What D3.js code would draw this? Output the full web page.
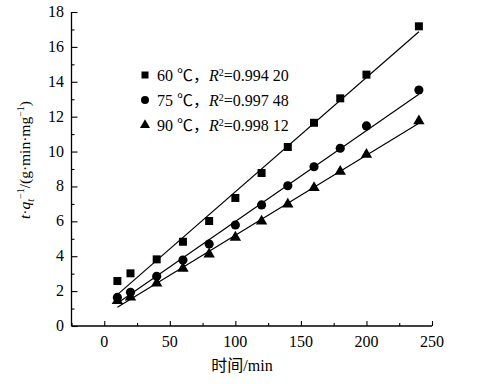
<!DOCTYPE html>
<html>
<head>
<meta charset="utf-8">
<script src="https://cdn.jsdelivr.net/npm/d3@7"></script>
<style>
	body { margin: 0; background: #fff; }
	svg text { font-family: "Liberation Serif", "Noto Sans CJK SC", serif; fill: #000; }
</style>
</head>
<body>
<div class="box"></div>
<script>
// time points (min)
var times = [10, 20, 40, 60, 80, 100, 120, 140, 160, 180, 200, 240];

// t/qt values
var q60 = [2.58, 3.02, 3.82, 4.83, 6.02, 7.34, 8.77, 10.26, 11.65, 13.05, 14.41, 17.18];
var q75 = [1.64, 1.93, 2.85, 3.78, 4.70, 5.79, 6.94, 8.04, 9.13, 10.19, 11.47, 13.53];
var q90 = [1.45, 1.65, 2.45, 3.30, 4.12, 5.08, 6.00, 6.98, 7.92, 8.86, 9.83, 11.75];

// fitted lines, ends
var fitT = [10, 240];
var fit60 = [1.80, 16.87];
var fit75 = [1.30, 13.28];
var fit90 = [1.07, 11.62];

var labels = ['60 \u2103\uff0c', '75 \u2103\uff0c', '90 \u2103\uff0c'];
var r2 = ['=0.994 20', '=0.997 48', '=0.998 12'];
var shapes = ['square', 'circle', 'triangle'];

var xTicks = [0, 50, 100, 150, 200, 250];
var yTicks = [0, 2, 4, 6, 8, 10, 12, 14, 16, 18];

var series = [
	{vals: q60, fit: fit60, shape: shapes[0], label: labels[0], r2: r2[0]},
	{vals: q75, fit: fit75, shape: shapes[1], label: labels[1], r2: r2[1]},
	{vals: q90, fit: fit90, shape: shapes[2], label: labels[2], r2: r2[2]}
];

function drawChart()
{
	var width = 480, height = 384;

	var svg = d3.select('.box')
		.append('svg')
		.attr('width', width)
		.attr('height', height);

	var x = d3.scaleLinear().domain([-25, 250]).range([71.5, 432]);
	var y = d3.scaleLinear().domain([0, 18]).range([326, 12]);

	// axes: ticks point inward
	var xAxis = d3.axisBottom(x)
		.tickValues(d3.range(-25, 251, 25))
		.tickSize(-3)
		.tickFormat('');
	var gx = svg.append('g').attr('transform', 'translate(0,326)').call(xAxis);
	gx.selectAll('.tick line')
		.attr('y2', function(d) { return d % 50 === 0 ? -5 : -3; });

	var yAxis = d3.axisLeft(y)
		.tickValues(d3.range(0, 19, 1))
		.tickSize(-3)
		.tickFormat('');
	var gy = svg.append('g').attr('transform', 'translate(71.5,0)').call(yAxis);
	gy.selectAll('.tick line')
		.attr('x2', function(d) { return d % 2 === 0 ? 6 : 3; });

	svg.selectAll('.domain').attr('stroke', '#000').attr('stroke-width', 1.3);
	svg.selectAll('.tick line').attr('stroke', '#000').attr('stroke-width', 1.1);
	gx.select('.domain').attr('d', 'M71.5,0H432');
	gy.select('.domain').attr('d', 'M0,326V12');

	svg.selectAll('text.xt')
		.data(xTicks)
		.enter()
		.append('text')
			.attr('class', 'xt')
			.attr('x', function(d) { return x(d); })
			.attr('y', 347)
			.attr('text-anchor', 'middle')
			.style('font-size', '16px')
			.text(function(d) { return d; });

	svg.selectAll('text.yt')
		.data(yTicks)
		.enter()
		.append('text')
			.attr('class', 'yt')
			.attr('x', 64)
			.attr('y', function(d) { return y(d) + 5; })
			.attr('text-anchor', 'end')
			.style('font-size', '16px')
			.text(function(d) { return d; });

	// fit lines
	var line = d3.line()
		.x(function(d) { return x(d[0]); })
		.y(function(d) { return y(d[1]); });

	series.forEach(function(s) {
		svg.append('path')
			.attr('d', line(fitT.map(function(t, i) { return [t, s.fit[i]]; })))
			.attr('fill', 'none')
			.attr('stroke', '#000')
			.attr('stroke-width', 1.2);
	});

	var sym = {
		square: d3.symbol().type(d3.symbolSquare).size(64),
		circle: d3.symbol().type(d3.symbolCircle).size(66),
		triangle: d3.symbol().type(d3.symbolTriangle).size(56)
	};

	series.forEach(function(s) {
		svg.selectAll('path.p' + s.shape)
			.data(s.vals)
			.enter()
			.append('path')
				.attr('class', 'p' + s.shape)
				.attr('d', sym[s.shape]())
				.attr('transform', function(d, i) {
					return 'translate(' + x(times[i]) + ',' + y(d) + ')';
				})
				.attr('fill', '#000');
	});

	// legend
	var legendY = [75, 100, 125];
	series.forEach(function(s, i) {
		svg.append('path')
			.attr('d', s.shape === 'square' ? d3.symbol().type(d3.symbolSquare).size(49)()
				: s.shape === 'circle' ? d3.symbol().type(d3.symbolCircle).size(50)()
				: d3.symbol().type(d3.symbolTriangle).size(44)())
			.attr('transform', 'translate(145,' + legendY[i] + ')')
			.attr('fill', '#000');

		var t = svg.append('text')
			.attr('x', 157)
			.attr('y', legendY[i] + 5.5)
			.style('font-size', '16px');
		t.append('tspan').text(s.label);
		t.append('tspan').style('font-style', 'italic').text('R');
		t.append('tspan').attr('dy', -5).style('font-size', '10px').text('2');
		t.append('tspan').attr('dy', 5).text(s.r2);
	});

	// axis titles
	svg.append('text')
		.attr('x', 242)
		.attr('y', 371)
		.attr('text-anchor', 'middle')
		.style('font-size', '16px')
		.text('\u65f6\u95f4/min');

	var yl = svg.append('text')
		.attr('transform', 'translate(30,160) rotate(-90)')
		.attr('text-anchor', 'middle')
		.style('font-size', '15.5px');
	yl.append('tspan').style('font-style', 'italic').text('t');
	yl.append('tspan').text('\u00b7');
	yl.append('tspan').style('font-style', 'italic').text('q');
	yl.append('tspan').attr('dy', 4).style('font-size', '10px').style('font-style', 'italic').text('t');
	yl.append('tspan').attr('dy', -10).style('font-size', '10px').text('\u22121');
	yl.append('tspan').attr('dy', 6).text('/(g\u00b7min\u00b7mg');
	yl.append('tspan').attr('dy', -6).style('font-size', '10px').text('\u22121');
	yl.append('tspan').attr('dy', 6).text(')');
}

drawChart();
</script>
</body>
</html>
